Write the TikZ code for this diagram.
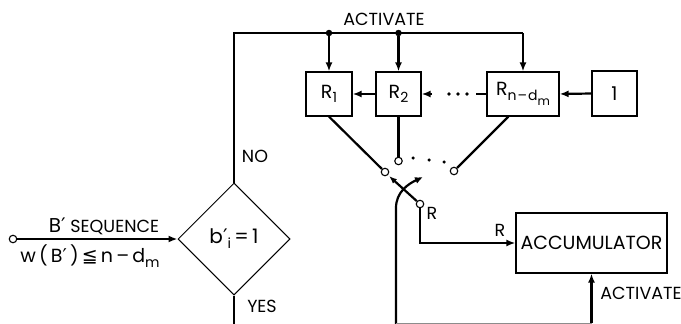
\documentclass[tikz,border=0pt]{standalone}
\usepackage{fontspec}
\setmainfont{Poppins}
\newfontfamily\symfont{DejaVu Sans}
\usetikzlibrary{arrows.meta,shapes.geometric,calc}
\newcommand{\mysub}[1]{\raisebox{-0.45ex}{\fontsize{14}{14}\selectfont #1}}
\newcommand{\mysubsub}[1]{\raisebox{-0.7ex}{\fontsize{12}{12}\selectfont #1}}
\newcommand{\prm}{{\symfont\char"2032}}
\tikzset{
  lbl/.style={inner sep=0pt, font=\fontsize{17.5}{17.5}\selectfont},
  regbox/.style={draw, line width=1.2pt, inner sep=0pt, minimum height=44pt, font=\fontsize{19}{19}\selectfont},
  wire/.style={line width=2.2pt},
  arr/.style={wire, -{Latex[length=9pt,width=7pt]}},
  contact/.style={circle, draw, fill=white, line width=1.1pt, inner sep=0pt, minimum size=7.5pt},
  jdot/.style={circle, fill=black, inner sep=0pt, minimum size=6.5pt},
  sdot/.style={circle, fill=black, inner sep=0pt, minimum size=3.5pt},
}
\begin{document}
\begin{tikzpicture}[x=1pt,y=-1pt]
\useasboundingbox (0,0) rectangle (681,324);
% boxes
\node[regbox, minimum width=46pt] (r1) at (329,94) {R\mysub{1}};
\node[regbox, minimum width=45pt] (r2) at (398.5,94) {R\mysub{2}};
\node[regbox, minimum width=72pt] (rn) at (523,94) {R\mysub{n{\kern1pt}\char"2013{\kern1pt}d\mysubsub{m}}};
\node[regbox, minimum width=45pt, minimum height=45pt] (one) at (614.5,93.5) {1};
\node[regbox, minimum width=151pt, minimum height=60pt, font=\fontsize{19}{19}\selectfont] (acc) at (591.5,243) {ACCUMULATOR};
\node[diamond, draw, line width=1pt, inner sep=0pt, minimum width=112pt, minimum height=112pt, font=\fontsize{20}{20}\selectfont] (dia) at (234,239) {b\prm\mysub{i}\,=\,1};
% input
\node[contact] (in) at (13,239) {};
\draw[arr] (in) -- (dia.west);
\node[lbl] (bseq) at (104,226) {{\fontsize{20}{20}\selectfont B\prm}\ SEQUENCE};
\node[lbl, font=\fontsize{19}{19}\selectfont] (wb) at (90,256) {w\,(\,B\prm\,)\,{\symfont\char"2266}\,n\,\char"2013\,d\mysub{m}};
% top activate line
\coordinate (tl) at (234,33);
\coordinate (tr) at (523,33);
\node[jdot] (j1) at (329,33) {};
\node[jdot] (j2) at (398.5,33) {};
\draw[wire] (dia.north) -- (tl) -- (tr);
\draw[arr] (tr) -- (rn.north);
\draw[arr] (j1) -- (r1.north);
\draw[arr] (j2) -- (r2.north);
\node[lbl] (act1) at (384,19.5) {ACTIVATE};
\node[lbl] (no) at (255,156) {NO};
\node[lbl] (yes) at (262,306) {YES};
\coordinate (dbot) at (234,324);
\draw[wire] (dia.south) -- (dbot);
% shift chain
\draw[arr] (one.west) -- (rn.east);
\draw[arr] (r2.west) -- (r1.east);
\coordinate (da) at (476,94);
\coordinate (db) at (432,94);
\draw[wire] (rn.west) -- (da);
\draw[line width=3.6pt, line cap=round, dash pattern=on 0pt off 9pt] (467,94) -- (440,94);
\draw[arr] (db) -- (r2.east);
% switch contacts
\node[contact] (c1) at (385,172) {};
\node[contact] (c2) at (398.5,161) {};
\node[contact] (c3) at (454,171) {};
\node[contact] (cr) at (420,204) {};
\draw[wire] (r1.south) -- (c1);
\draw[wire] (r2.south) -- (c2);
\draw[wire] ($(rn.south west)!0.3!(rn.south east)$) -- (c3);
\node[sdot] (s1) at (413,158) {};
\node[sdot] (s2) at (429,160) {};
\node[sdot] (s3) at (444,162) {};
\coordinate (armtip) at (389,176);
\draw[wire, -{Latex[length=8pt,width=6pt]}] (cr) -- (armtip);
\coordinate (bl) at (396,323.3);
\coordinate (rottip) at (423,177);
\draw[wire, -{Latex[length=8pt,width=7pt]}] (396,324) -- (396,208) to[out=90,in=205] (rottip);
\node[lbl] (rlab1) at (432,213) {R};
\draw[arr] (cr) |- (acc.west);
\node[lbl] (rlab2) at (500,230) {R};
% bottom activate
\draw[line width=1.3pt, black!45] (bl) -- (acc.south |- bl);
\draw[arr] (acc.south |- bl) -- (acc.south);
\node[lbl] (act2) at (641,293) {ACTIVATE};
\end{tikzpicture}
\end{document}
